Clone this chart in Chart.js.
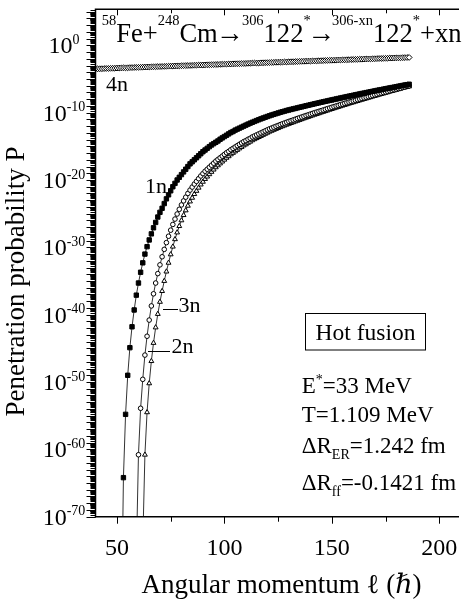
<!DOCTYPE html>
<html lang="en">
<head>
<meta charset="UTF-8">
<title>Penetration probability vs angular momentum</title>
<script src="https://cdn.jsdelivr.net/npm/chart.js@4.4.1/dist/chart.umd.min.js"></script>
<style>
  html, body { margin: 0; padding: 0; background: #fff; overflow: hidden; }
  #wrap { position: relative; width: 464px; height: 599px; }
</style>
</head>
<body>
<div id="wrap"><canvas id="chart" width="464" height="599"></canvas></div>
<script>
// Angular momentum grid (hbar units)
const ELL = [
  40, 41, 42, 43, 44, 45, 46, 47, 48, 49,
  50, 51, 52, 53, 54, 55, 56, 57, 58, 59,
  60, 61, 62, 63, 64, 65, 66, 67, 68, 69,
  70, 71, 72, 73, 74, 75, 76, 77, 78, 79,
  80, 81, 82, 83, 84, 85, 86, 87, 88, 89,
  90, 91, 92, 93, 94, 95, 96, 97, 98, 99,
  100, 101, 102, 103, 104, 105, 106, 107, 108, 109,
  110, 111, 112, 113, 114, 115, 116, 117, 118, 119,
  120, 121, 122, 123, 124, 125, 126, 127, 128, 129,
  130, 131, 132, 133, 134, 135, 136, 137, 138, 139,
  140, 141, 142, 143, 144, 145, 146, 147, 148, 149,
  150, 151, 152, 153, 154, 155, 156, 157, 158, 159,
  160, 161, 162, 163, 164, 165, 166, 167, 168, 169,
  170, 171, 172, 173, 174, 175, 176, 177, 178, 179,
  180, 181, 182, 183, 184, 185, 186
];

// log10 of the penetration probability, one row per 10 units of l
const LOGP_1N = [
  null, null, null, null, null, null, null, null, null, null,
  null, null, -88, -64.2, -54.8, -49.0, -44.9, -41.8, -39.3, -37.1,
  -35.3, -33.7, -32.3, -31.0, -29.9, -28.9, -28.0, -27.1, -26.3, -25.5,
  -24.8, -24.2, -23.5, -22.8, -22.2, -21.6, -21.0, -20.5, -20.0, -19.6,
  -19.2, -18.8, -18.4, -18.0, -17.6, -17.3, -17.0, -16.7, -16.4, -16.1,
  -15.8, -15.55, -15.3, -15.05, -14.8, -14.6, -14.4, -14.2, -13.95, -13.75,
  -13.55, -13.35, -13.15, -12.95, -12.8, -12.6, -12.45, -12.3, -12.15, -12.0,
  -11.85, -11.7, -11.56, -11.43, -11.3, -11.17, -11.04, -10.92, -10.8, -10.68,
  -10.57, -10.46, -10.35, -10.25, -10.15, -10.05, -9.95, -9.86, -9.77, -9.68,
  -9.6, -9.52, -9.44, -9.37, -9.29, -9.21, -9.14, -9.06, -8.98, -8.91,
  -8.83, -8.76, -8.68, -8.61, -8.54, -8.46, -8.39, -8.32, -8.25, -8.18,
  -8.11, -8.04, -7.97, -7.9, -7.83, -7.76, -7.69, -7.62, -7.55, -7.49,
  -7.42, -7.35, -7.29, -7.22, -7.15, -7.09, -7.02, -6.96, -6.89, -6.83,
  -6.77, -6.7, -6.64, -6.58, -6.51, -6.45, -6.39, -6.33, -6.27, -6.21,
  -6.14, -6.08, -6.02, -5.96, -5.9, -5.84, -5.78
];

const LOGP_2N = [
  null, null, null, null, null, null, null, null, null, null,
  null, null, null, null, null, null, null, null, null, null,
  null, null, -74, -60.8, -54.5, -50.2, -46.9, -44.2, -41.9, -39.9,
  -38.1, -36.5, -35.0, -33.6, -32.3, -31.05, -29.9, -28.8, -27.8, -26.85,
  -26.0, -25.22, -24.52, -23.83, -23.2, -22.65, -22.1, -21.62, -21.15, -20.68,
  -20.27, -19.86, -19.5, -19.15, -18.8, -18.46, -18.12, -17.83, -17.55, -17.27,
  -16.99, -16.71, -16.48, -16.2, -15.98, -15.76, -15.54, -15.32, -15.1, -14.88,
  -14.71, -14.49, -14.32, -14.11, -13.95, -13.79, -13.63, -13.47, -13.31, -13.15,
  -12.99, -12.83, -12.7, -12.56, -12.42, -12.3, -12.16, -12.03, -11.91, -11.79,
  -11.67, -11.55, -11.44, -11.32, -11.21, -11.09, -10.98, -10.86, -10.75, -10.64,
  -10.53, -10.42, -10.31, -10.2, -10.1, -9.99, -9.89, -9.78, -9.68, -9.57,
  -9.47, -9.36, -9.26, -9.16, -9.06, -8.96, -8.86, -8.76, -8.66, -8.56,
  -8.47, -8.37, -8.28, -8.18, -8.09, -7.99, -7.9, -7.8, -7.71, -7.61,
  -7.52, -7.43, -7.34, -7.24, -7.16, -7.06, -6.98, -6.88, -6.8, -6.71,
  -6.62, -6.53, -6.45, -6.35, -6.27, -6.19, -6.11
];

const LOGP_3N = [
  null, null, null, null, null, null, null, null, null, null,
  null, null, null, null, null, null, null, null, null, -76,
  -60.8, -53.9, -49.6, -46.0, -43.2, -40.8, -38.7, -36.9, -35.3, -33.9,
  -32.6, -31.4, -30.3, -29.3, -28.35, -27.45, -26.6, -25.8, -25.05, -24.35,
  -23.7, -23.1, -22.55, -22.0, -21.5, -21.05, -20.6, -20.2, -19.8, -19.4,
  -19.05, -18.7, -18.4, -18.1, -17.8, -17.5, -17.2, -16.95, -16.7, -16.45,
  -16.2, -15.95, -15.75, -15.5, -15.3, -15.1, -14.9, -14.7, -14.5, -14.3,
  -14.15, -13.95, -13.8, -13.6, -13.45, -13.3, -13.15, -13.0, -12.85, -12.7,
  -12.55, -12.4, -12.28, -12.15, -12.02, -11.9, -11.77, -11.65, -11.53, -11.42,
  -11.3, -11.19, -11.08, -10.97, -10.86, -10.75, -10.64, -10.53, -10.42, -10.32,
  -10.21, -10.11, -10.0, -9.9, -9.8, -9.7, -9.6, -9.5, -9.4, -9.3,
  -9.2, -9.1, -9.0, -8.91, -8.81, -8.72, -8.62, -8.53, -8.43, -8.34,
  -8.25, -8.16, -8.07, -7.98, -7.89, -7.8, -7.71, -7.62, -7.53, -7.44,
  -7.35, -7.27, -7.18, -7.09, -7.01, -6.92, -6.84, -6.75, -6.67, -6.59,
  -6.5, -6.42, -6.34, -6.25, -6.17, -6.09, -6.01
];

const LOGP_4N = [
  -3.50, -3.49, -3.48, -3.47, -3.45, -3.44, -3.43, -3.42, -3.41, -3.40,
  -3.38, -3.37, -3.36, -3.35, -3.34, -3.33, -3.31, -3.30, -3.29, -3.28,
  -3.27, -3.26, -3.24, -3.23, -3.22, -3.21, -3.20, -3.19, -3.17, -3.16,
  -3.15, -3.14, -3.13, -3.12, -3.10, -3.09, -3.08, -3.07, -3.06, -3.05,
  -3.03, -3.02, -3.01, -3.00, -2.99, -2.98, -2.96, -2.95, -2.94, -2.93,
  -2.92, -2.91, -2.89, -2.88, -2.87, -2.86, -2.85, -2.84, -2.82, -2.81,
  -2.80, -2.79, -2.78, -2.77, -2.75, -2.74, -2.73, -2.72, -2.71, -2.70,
  -2.69, -2.67, -2.66, -2.65, -2.64, -2.63, -2.62, -2.60, -2.59, -2.58,
  -2.57, -2.56, -2.55, -2.53, -2.52, -2.51, -2.50, -2.49, -2.48, -2.46,
  -2.45, -2.44, -2.43, -2.42, -2.41, -2.39, -2.38, -2.37, -2.36, -2.35,
  -2.34, -2.32, -2.31, -2.30, -2.29, -2.28, -2.27, -2.25, -2.24, -2.23,
  -2.22, -2.21, -2.20, -2.18, -2.17, -2.16, -2.15, -2.14, -2.13, -2.11,
  -2.10, -2.09, -2.08, -2.07, -2.06, -2.04, -2.03, -2.02, -2.01, -2.00,
  -1.99, -1.97, -1.96, -1.95, -1.94, -1.93, -1.92, -1.90, -1.89, -1.88,
  -1.87, -1.86, -1.85, -1.83, -1.82, -1.81, -1.80
];

const X_TICKS = [50, 75, 100, 125, 150, 175, 200];
const X_LABELS = [50, 100, 150, 200];
const Y_LABEL_EXP = [0, -10, -20, -30, -40, -50, -60, -70];

const FONT = '"Liberation Serif", "Times New Roman", "DejaVu Serif", serif';

function series(logs) {
  const pts = [];
  ELL.forEach((l, i) => {
    if (logs[i] !== null) pts.push({ x: l, y: Math.pow(10, logs[i]) });
  });
  return pts;
}

function dataset(label, logs, style, radius, fill) {
  return {
    label,
    data: series(logs),
    borderColor: '#333',
    borderWidth: 1,
    pointStyle: style,
    pointRadius: radius,
    pointBackgroundColor: fill,
    pointBorderColor: '#000',
    pointBorderWidth: 1,
    tension: 0,
    clip: 0
  };
}

// text run with super/subscripts: parts = [text, size, dy, advance?]
function rich(ctx, x, y, parts, align, dryRun) {
  const adv = p => {
    ctx.font = p[1] + 'px ' + FONT;
    return p[3] !== undefined ? p[3] : ctx.measureText(p[0]).width;
  };
  let w = 0;
  parts.forEach(p => { w += adv(p); });
  if (dryRun) return w;
  let cx = align === 'center' ? x - w / 2 : x;
  ctx.textAlign = 'left';
  ctx.textBaseline = 'alphabetic';
  parts.forEach(p => {
    const a = adv(p);
    const gw = ctx.measureText(p[0]).width;
    // fixed-advance glyphs are centred in their slot
    const off = p[3] !== undefined ? (a - gw) / 2 : 0;
    ctx.fillText(p[0], cx + off, y + (p[2] || 0));
    cx += a;
  });
  return w;
}

const frame = {
  id: 'frame',
  afterDraw(chart) {
    const { ctx, chartArea: a, scales: { x, y } } = chart;
    ctx.save();
    ctx.strokeStyle = '#000';
    ctx.fillStyle = '#000';

    // frame
    ctx.lineWidth = 1.5;
    ctx.beginPath();
    ctx.moveTo(a.left, a.top - 0.75); ctx.lineTo(a.left, a.bottom + 0.75);
    ctx.moveTo(a.left, a.top); ctx.lineTo(a.right, a.top);
    ctx.moveTo(a.left, a.bottom); ctx.lineTo(a.right, a.bottom);
    ctx.stroke();

    // y ticks: decades plus the 2..9 minors
    ctx.lineWidth = 1;
    ctx.beginPath();
    for (let d = -71; d <= 6; d++) {
      for (let k = 1; k <= 9; k++) {
        const py = y.getPixelForValue(k * Math.pow(10, d));
        if (py < a.top - 0.5 || py > a.bottom + 0.5) continue;
        const yy = Math.round(py) + 0.5;
        const len = k === 1 ? 9 : 5;
        ctx.moveTo(a.left, yy); ctx.lineTo(a.left - len, yy);
      }
    }
    ctx.stroke();

    // x ticks, inward on top, outward at the bottom
    ctx.beginPath();
    X_TICKS.forEach(v => {
      const px = Math.round(x.getPixelForValue(v)) + 0.5;
      const major = X_LABELS.includes(v);
      ctx.moveTo(px, a.top); ctx.lineTo(px, a.top + (major ? 6 : 4));
      ctx.moveTo(px, a.bottom); ctx.lineTo(px, a.bottom + (major ? 7 : 5));
    });
    ctx.stroke();

    // tick labels
    ctx.font = '24px ' + FONT;
    ctx.textAlign = 'center';
    ctx.textBaseline = 'alphabetic';
    X_LABELS.forEach(v => ctx.fillText(String(v), x.getPixelForValue(v), a.bottom + 38));

    Y_LABEL_EXP.forEach(e => {
      const py = y.getPixelForValue(Math.pow(10, e));
      rich(ctx, 64, py + 8, [['10', 24, 0], [String(e), 14, -9.5]], 'center');
    });

    // axis titles
    ctx.font = '27px ' + FONT;
    ctx.textAlign = 'center';
    ctx.fillText('Angular momentum \u2113 (\u210F)', 281.5, 593);
    ctx.save();
    ctx.translate(23.5, 281.5);
    ctx.rotate(-Math.PI / 2);
    ctx.fillText('Penetration probability P', 0, 0);
    ctx.restore();

    // reaction line, fitted to the space above the curves
    const M = 27.5, S = 15, R = -16.7, A = 29;
    const title = [
      ['58', S, R], ['Fe+', M, 0], ['248', S, R], ['Cm', M, 0], ['\u2192', A, 0, 25],
      ['306', S, R], ['122', M, 0], ['*', S, R], ['\u2192', A, 0, 22],
      ['306-xn', S, R], ['122', M, 0], ['*', S, R], ['+xn', M, 0]
    ];
    const w0 = rich(ctx, 0, 0, title, 'left', true);
    const f = Math.min(1, 360 / w0);
    rich(ctx, 101.7, 41.7, title.map(p => [p[0], p[1] * f, p[2], p[3] !== undefined ? p[3] * f : undefined]));

    // curve labels
    ctx.font = '22px ' + FONT;
    ctx.textAlign = 'left';
    ctx.fillText('4n', 106, 90.5);
    ctx.fillText('1n', 145, 192.5);
    ctx.fillText('3n', 178.5, 311.7);
    ctx.fillText('2n', 171.5, 353.3);
    ctx.lineWidth = 1;
    ctx.beginPath();
    ctx.moveTo(163, 309.5); ctx.lineTo(178, 309.5);
    ctx.moveTo(148, 351.5); ctx.lineTo(170, 351.5);
    ctx.stroke();

    // parameter box and values
    ctx.strokeRect(305.5, 313.5, 120, 36.5);
    ctx.font = '23.5px ' + FONT;
    ctx.textAlign = 'center';
    ctx.fillText('Hot fusion', 365.5, 339.5);
    rich(ctx, 301.7, 393.2, [['E', 23, 0], ['*', 14, -9], ['=33 MeV', 23, 0]]);
    rich(ctx, 301.7, 421.7, [['T=1.109 MeV', 23, 0]]);
    rich(ctx, 301.7, 453.3, [['\u0394R', 23, 0], ['ER', 14, 6], ['=1.242 fm', 23, 0]]);
    rich(ctx, 301.7, 490, [['\u0394R', 23, 0], ['ff', 14, 6], ['=-0.1421 fm', 23, 0]]);

    ctx.restore();
  }
};

new Chart(document.getElementById('chart'), {
  type: 'line',
  data: {
    datasets: [
      dataset('1n', LOGP_1N, 'rect', 3.1, '#000'),
      dataset('3n', LOGP_3N, 'circle', 2.3, '#fff'),
      dataset('2n', LOGP_2N, 'triangle', 2.8, '#fff'),
      dataset('4n', LOGP_4N, 'rectRot', 2.9, '#fff')
    ]
  },
  options: {
    responsive: false,
    animation: false,
    layout: { padding: { left: 95.5, right: 0, top: 9.3, bottom: 82.3 } },
    plugins: { legend: { display: false }, tooltip: { enabled: false } },
    scales: {
      x: { type: 'linear', display: false, min: 40, max: 209.2 },
      y: { type: 'logarithmic', display: false, min: 1e-70, max: Math.pow(10, 5.35) }
    }
  },
  plugins: [frame]
});
</script>
</body>
</html>
